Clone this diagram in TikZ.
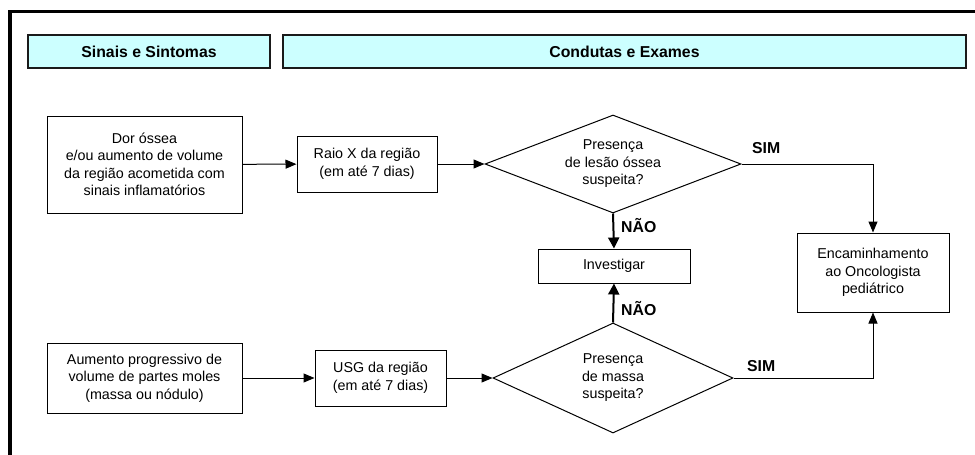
\documentclass[tikz,border=0pt]{standalone}
\usepackage{fontspec}
\setmainfont{Liberation Sans}
\usetikzlibrary{shapes.geometric,arrows.meta}
\definecolor{hdrfill}{HTML}{CCFFFF}
\definecolor{hdrline}{HTML}{1A1A1A}
\begin{document}
\begin{tikzpicture}[x=1pt,y=-1pt,
  txt/.style={font=\fontsize{14.3}{17.5}\selectfont, align=center},
  hdr/.style={draw=hdrline, line width=1.2pt, fill=hdrfill, inner sep=0pt,
    font=\fontsize{15.8}{18}\selectfont\bfseries},
  box/.style={draw, line width=1pt, inner sep=0pt, txt},
  dec/.style={draw, line width=1pt, diamond, inner sep=0pt, txt},
  lbl/.style={font=\fontsize{15.8}{18}\selectfont\bfseries, inner sep=0pt},
  arr/.style={line width=1pt, -{Triangle[length=11pt,width=9pt]}},
  arrb/.style={line width=2pt, -{Triangle[length=11pt,width=11pt]}},
  ln/.style={line width=1pt}
]
\useasboundingbox (0,0) rectangle (975,455);
% frame
\draw[line width=3.5pt] (10,455) -- (10,11.7) -- (975,11.7);
% headers
\node[hdr, minimum width=242pt, minimum height=33pt] (h1) at (149,51.5) {Sinais e Sintomas};
\node[hdr, minimum width=683pt, minimum height=33pt] (h2) at (624.5,51.5) {Condutas e Exames};
% boxes
\node[box, minimum width=195pt, minimum height=97pt] (b1) at (144.5,164.5)
  {Dor óssea\\e/ou aumento de volume\\da região acometida com\\sinais inflamatórios};
\node[box, minimum width=140pt, minimum height=56pt] (b2) at (367,164)
  {Raio X da região\\(em até 7 dias)};
\node[dec, minimum width=256pt, minimum height=98pt, aspect=2.6] (d1) at (613,164)
  {Presença\\de lesão óssea\\suspeita?};
\node[box, minimum width=152pt, minimum height=34pt] (inv) at (614,266) {Investigar};
\node[box, minimum width=152pt, minimum height=79pt] (enc) at (873,272.5)
  {Encaminhamento\\ao Oncologista\\pediátrico};
\node[box, minimum width=195pt, minimum height=70pt] (b3) at (144.5,378)
  {Aumento progressivo de\\volume de partes moles\\(massa ou nódulo)};
\node[box, minimum width=131pt, minimum height=56pt] (b4) at (380.5,378)
  {USG da região\\(em até 7 dias)};
\node[dec, minimum width=240pt, minimum height=110pt, aspect=2.2] (d2) at (613,378)
  {Presença\\de massa\\suspeita?};
% connectors
\draw[arr] (b1) -- (b2);
\draw[arr] (b2) -- (d1.west);
\draw[arr] (d1.east) -| (enc.north);
\draw[arrb] (d1.south) -- (inv.north);
\draw[arr] (b3) -- (b4);
\draw[arr] (b4) -- (d2.west);
\draw[arr] (d2.east) -| (enc.south);
\draw[arrb] (d2.north) -- (inv.south);
% labels
\node[lbl, anchor=west] (n1) at (621,226) {NÃO};
\node[lbl, anchor=west] (n2) at (621,309) {NÃO};
\node[lbl, anchor=west] (s1) at (752,148) {SIM};
\node[lbl, anchor=west] (s2) at (747,366) {SIM};
\end{tikzpicture}
\end{document}
